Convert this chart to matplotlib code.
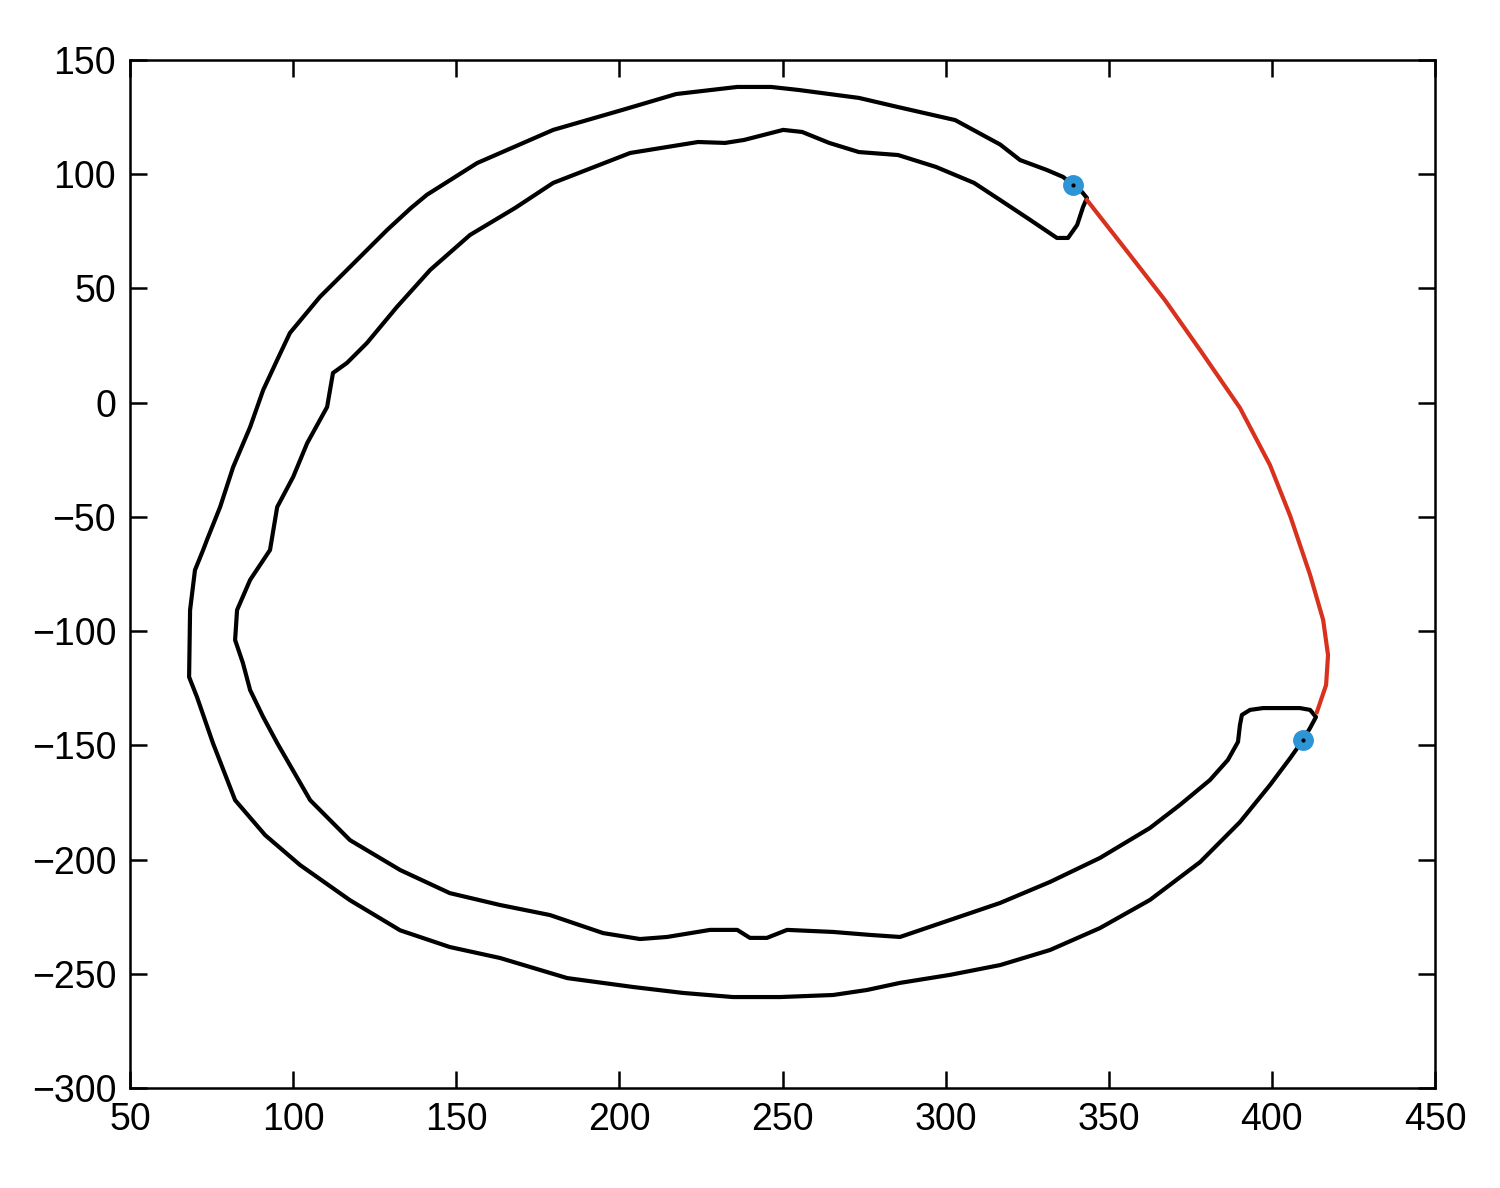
import numpy as np
import matplotlib.pyplot as plt

plt.rcParams['font.family'] = ['Liberation Sans', 'DejaVu Sans']
plt.rcParams.update({'font.size': 27})

# outer boundary, from top end point, counter-clockwise to bottom end point
outer_x = [339.0, 336.0, 331.1, 322.8, 316.7, 302.9, 285.4, 273.4, 254.8, 246.5,
           236.1, 217.4, 200.8, 179.7, 156.4, 141.0, 136.1, 128.8, 116.5, 108.2,
           99.0, 95.1, 90.8, 86.8, 81.6, 77.6, 73.6, 72.4, 69.9, 68.4, 68.1,
           70.5, 75.4, 82.2, 91.4, 102.1, 117.4, 132.8, 148.0, 163.4, 184.0,
           204.2, 219.5, 234.8, 249.2, 265.5, 275.9, 286.0, 301.3, 316.7, 332.0,
           347.3, 362.6, 378.0, 390.2, 399.4, 405.6, 409.5]
outer_y = [95.3, 98.8, 101.8, 106.2, 113.0, 123.7, 129.4, 133.4, 136.9, 138.2,
           138.2, 135.1, 128.1, 119.4, 104.9, 91.0, 85.2, 75.6, 58.1, 46.3,
           30.5, 18.7, 5.5, -10.7, -28.2, -45.7, -60.0, -64.5, -73.3, -90.8, -120.1,
           -128.8, -149.0, -174.0, -189.3, -202.4, -217.8, -231.0, -238.3, -243.1, -251.9,
           -255.8, -258.4, -260.2, -260.2, -259.3, -257.1, -254.0, -250.5, -246.2, -239.6,
           -230.0, -217.7, -201.1, -183.6, -167.4, -155.6, -147.7]

# bottom end cap and inner boundary, back to the top end point
inner_x = [411.7, 413.5, 411.7, 408.6, 397.3, 393.3, 390.8, 390.2, 389.6, 386.5,
           381.0, 371.8, 362.6, 347.3, 332.0, 316.7, 301.3, 286.0, 276.8, 265.5,
           251.4, 245.2, 240.0, 236.1, 227.8, 214.6, 206.3, 195.0, 178.7, 163.4,
           148.0, 132.8, 117.4, 105.2, 95.1, 90.8, 86.8, 84.6, 82.2, 82.8,
           86.8, 92.9, 95.1, 100.0, 104.3, 110.4, 112.2, 116.5, 122.6, 131.8,
           142.0, 154.2, 168.0, 179.7, 203.3, 224.1, 232.4, 238.2, 250.2, 256.0,
           264.3, 273.4, 285.4, 297.0, 308.7, 316.7, 325.9, 334.1, 337.5, 340.3,
           342.1, 343.3, 341.8, 339.0]
inner_y = [-142.4, -137.6, -134.5, -133.7, -133.7, -134.5, -136.7, -141.1, -148.5, -156.4,
           -165.2, -176.1, -186.2, -199.3, -209.8, -219.0, -226.5, -233.9, -233.0, -231.7,
           -230.8, -234.3, -234.3, -230.8, -230.8, -233.9, -234.8, -232.2, -224.3, -219.9,
           -214.7, -204.6, -191.5, -174.0, -149.0, -137.6, -125.8, -114.0, -103.9, -90.8,
           -77.6, -64.5, -45.7, -32.5, -17.7, -1.9, 13.0, 17.4, 26.1, 41.9,
           58.1, 73.4, 85.2, 96.2, 109.3, 114.1, 113.7, 115.0, 119.4, 118.5,
           113.7, 109.7, 108.4, 103.2, 96.2, 88.7, 80.0, 72.1, 72.1, 77.8,
           85.6, 89.6, 92.2, 95.3]

# red connecting curve
curve_x = [343.3, 356.5, 367.2, 378.0, 390.2, 399.4, 405.6, 411.7, 415.7, 417.2, 416.6, 413.8]
curve_y = [88.7, 64.6, 44.9, 23.0, -2.3, -27.3, -49.6, -75.4, -95.1, -110.5, -123.6, -135.4]

# end points
pts_x = [339.0, 409.5]
pts_y = [95.3, -147.7]

fig = plt.figure(figsize=(15, 11.88), dpi=100)
ax = fig.add_axes([0.0867, 0.0842, 0.87, 0.8653])

ax.plot(outer_x + inner_x, outer_y + inner_y, color='black', lw=3.0)
ax.plot(curve_x, curve_y, color='#d8321f', lw=3.0)
ax.plot(pts_x, pts_y, 'o', ms=14, color='#2d95d6', mec='#2d95d6')
ax.plot(pts_x, pts_y, '.', ms=4, color='black')

ax.set_xlim(50, 450)
ax.set_ylim(-300, 150)
ax.set_xticks(np.arange(50, 451, 50))
ax.set_yticks(np.arange(-300, 151, 50))
ax.tick_params(direction='in', length=12, width=1.8, top=True, right=True, pad=10)
for s in ax.spines.values():
    s.set_linewidth(1.8)

plt.savefig('out.png', dpi=100, facecolor='white')
